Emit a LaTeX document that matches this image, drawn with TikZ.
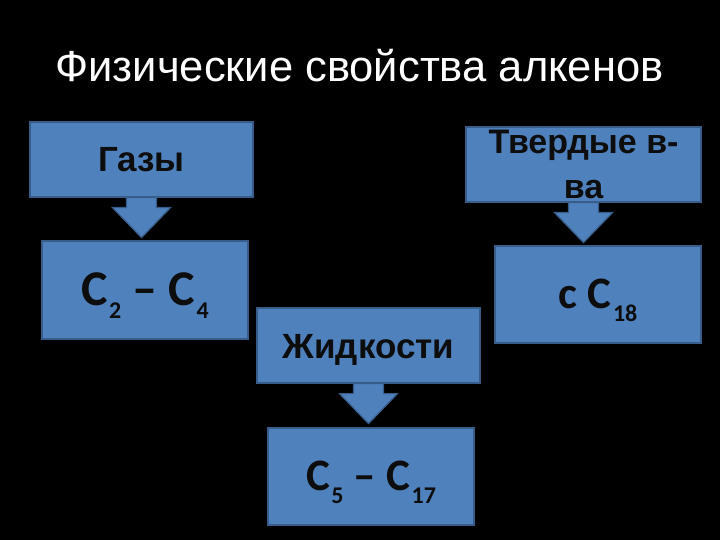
\documentclass[tikz,border=0pt]{standalone}
\usepackage{fontspec}
\setmainfont{Liberation Sans}
\newfontfamily\formfont{Carlito}
\usepackage{tikz}
\usetikzlibrary{backgrounds,calc}
\definecolor{slideblue}{RGB}{79,129,189}
\definecolor{slideedge}{RGB}{56,93,138}
\definecolor{inkdark}{RGB}{13,13,13}
\newcommand{\idx}[1]{\kern1.5pt\raisebox{-13pt}{\fontsize{24}{24}\selectfont #1}}
\tikzset{
  box/.style={
    draw=slideedge,
    line width=1.2pt,
    fill=slideblue,
    text=inkdark,
    align=center,
    inner sep=0pt
  },
  wordbox/.style={box, font=\bfseries\fontsize{35}{45}\selectfont, text height=25pt, text depth=0pt},
  rangebox/.style={box, font=\formfont\bfseries\fontsize{45}{45}\selectfont, text height=28.5pt, text depth=0pt},
  blockarrow/.style={fill=slideblue, draw=slideedge, line width=1.2pt, line join=miter},
  titletext/.style={text=white, font=\fontsize{43.5}{50}\selectfont}
}

\begin{document}
\begin{tikzpicture}[x=1pt, y=-1pt]
  \node[titletext, anchor=base] (title) at (359.5,82) {Физические свойства алкенов};

  \node[wordbox, minimum width=223pt, minimum height=75pt] (gas) at (141.5,159.5) {Газы};
  \node[rangebox, font=\formfont\bfseries\fontsize{50}{50}\selectfont, text height=31.6pt,
        minimum width=206pt, minimum height=98pt] (gasrange) at (145,290) {C\idx{2} – C\idx{4}};

  \node[wordbox, minimum width=223pt, minimum height=75pt] (liquid) at (368.5,345.5) {Жидкости};
  \node[rangebox, minimum width=206pt, minimum height=97pt] (liqrange) at (371,476.5) {C\idx{5} – C\idx{17}};

  \node[box, font=\bfseries\fontsize{34}{45}\selectfont,
        minimum width=235pt, minimum height=75pt] (solid) at (583.5,164.5) {Твердые в-\\ва};
  \node[rangebox, minimum width=206pt, minimum height=97pt] (solrange) at (598,294.5) {с C\idx{18}};

  % slide background and block arrows under the headers
  \begin{scope}[on background layer]
    \fill[black] (0,0) rectangle (720,540);
    \foreach \src in {gas,liquid,solid}
      \draw[blockarrow] ($(\src.south)+(-15,0)$) -- ++(0,10) -- ++(-14,0) -- ++(29,30)
        -- ++(29,-30) -- ++(-14,0) -- ++(0,-10) -- cycle;
  \end{scope}
\end{tikzpicture}
\end{document}
